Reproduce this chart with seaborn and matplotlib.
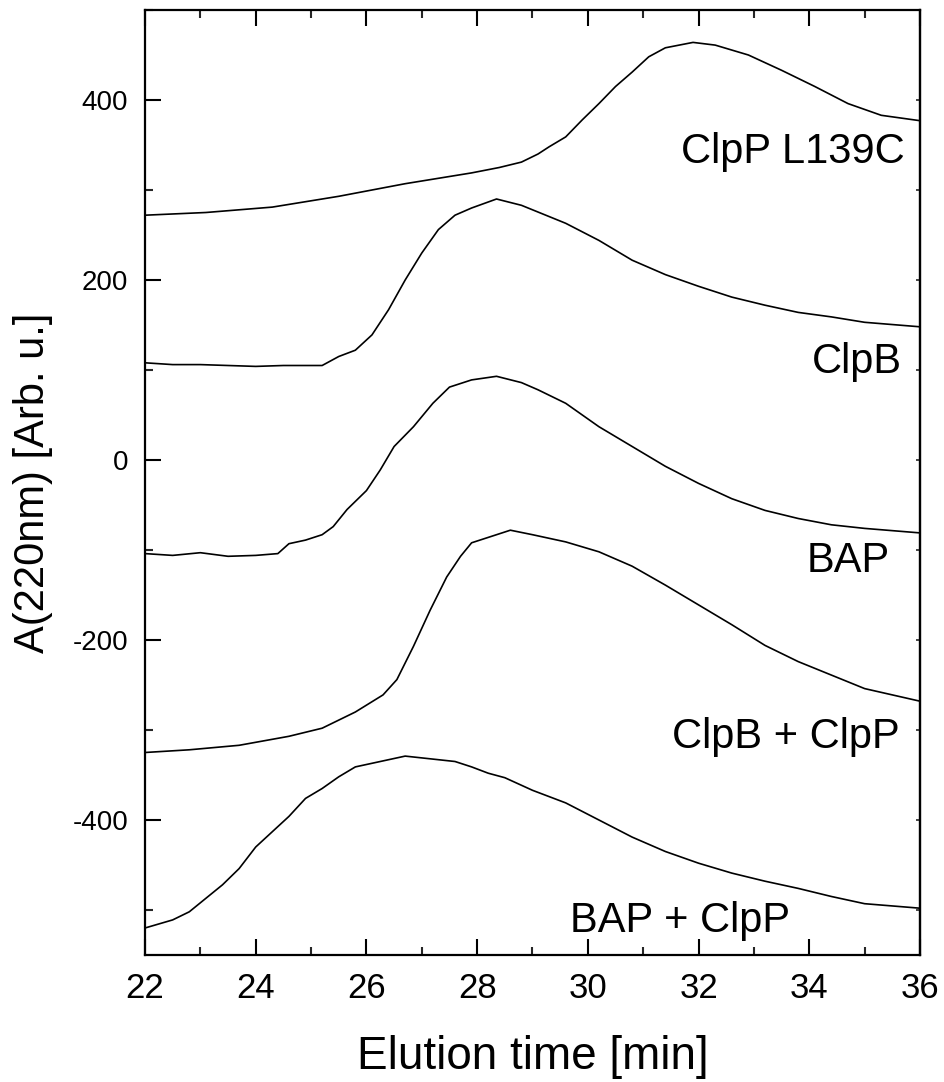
import matplotlib
matplotlib.use("Agg")
import matplotlib.pyplot as plt
from matplotlib.ticker import MultipleLocator
import numpy as np
import pandas as pd
import seaborn as sns

# ---- data ----
clpp_t = [22.0, 23.1, 24.3, 25.5, 26.7, 27.9, 28.4, 28.8, 29.1, 29.3, 29.6, 29.9, 30.2, 30.5, 30.8,
          31.1, 31.4, 31.9, 32.3, 32.9, 33.5, 34.1, 34.7, 35.3, 36.0]
clpp_y = [272, 275, 281, 293, 307, 319, 325, 331, 340, 348, 359, 378, 396, 415, 431,
          448, 458, 464, 461, 450, 433, 415, 396, 383, 377]

clpb_t = [22.0, 22.5, 23.0, 23.5, 24.0, 24.5, 25.2, 25.5, 25.8, 26.1, 26.4, 26.7, 27.0, 27.3, 27.6,
          27.9, 28.35, 28.8, 29.0, 29.6, 30.2, 30.8, 31.4, 32.0, 32.6, 33.2, 33.8, 34.4, 35.0, 36.0]
clpb_y = [108, 106, 106, 105, 104, 105, 105, 115, 122, 139, 167, 200, 230, 256, 272,
          280, 290, 283, 278, 263, 244, 222, 206, 193, 181, 172, 164, 159, 153, 148]

bap_t = [22.0, 22.5, 23.0, 23.5, 24.0, 24.4, 24.6, 24.9, 25.2, 25.4, 25.65, 26.0, 26.25, 26.5, 26.85,
         27.2, 27.5, 27.9, 28.35, 28.8, 29.1, 29.6, 30.2, 30.8, 31.4, 32.0, 32.6, 33.2, 33.8,
         34.4, 35.0, 36.0]
bap_y = [-104, -106, -103, -107, -106, -104, -93, -89, -83, -74, -55, -34, -11, 15, 37,
         63, 81, 89, 93, 86, 78, 63, 37, 15, -7, -26, -43, -56, -65,
         -72, -76, -81]

clpb_clpp_t = [22.0, 22.8, 23.7, 24.6, 25.2, 25.8, 26.3, 26.55, 26.85, 27.15, 27.45, 27.7, 27.9,
               28.2, 28.6, 29.0, 29.6, 30.2, 30.8, 31.4, 32.0, 32.6, 33.2, 33.8, 34.4, 35.0, 36.0]
clpb_clpp_y = [-325, -322, -317, -307, -298, -280, -261, -244, -207, -167, -130, -107, -92,
               -86, -78, -83, -91, -102, -118, -139, -161, -183, -206, -224, -239, -254, -268]

bap_clpp_t = [22.0, 22.5, 22.8, 23.1, 23.4, 23.7, 24.0, 24.3, 24.6, 24.9, 25.2, 25.5, 25.8, 26.1,
              26.4, 26.7, 27.3, 27.6, 27.9, 28.2, 28.5, 29.0, 29.6, 30.2, 30.8, 31.4, 32.0, 32.6,
              33.2, 33.8, 34.4, 35.0, 36.0]
bap_clpp_y = [-520, -511, -502, -487, -472, -454, -430, -413, -396, -376, -365, -352, -341, -337,
              -333, -329, -333, -335, -341, -348, -353, -367, -381, -400, -419, -435, -448, -459,
              -468, -476, -485, -493, -498]

series_names = ["ClpP L139C", "ClpB", "BAP", "ClpB + ClpP", "BAP + ClpP"]
label_x = [35.73, 35.67, 35.46, 35.64, 33.65]
label_y = [330, 97, -124, -320, -524]

x_ticks = [22, 24, 26, 28, 30, 32, 34, 36]
y_ticks = [-400, -200, 0, 200, 400]

# ---- build long-form table ----
frames = []
for name, t, y in zip(series_names,
                      [clpp_t, clpb_t, bap_t, clpb_clpp_t, bap_clpp_t],
                      [clpp_y, clpb_y, bap_y, clpb_clpp_y, bap_clpp_y]):
    frames.append(pd.DataFrame({"t": t, "A": y, "sample": name}))
df = pd.concat(frames, ignore_index=True)

sns.set_theme(style="ticks")
plt.rcParams["font.family"] = ["Liberation Sans", "DejaVu Sans"]
plt.rcParams["axes.unicode_minus"] = False

fig = plt.figure(figsize=(9.44, 10.82), dpi=100)
ax = fig.add_axes([145 / 944, 1 - 955 / 1082, 775 / 944, 945 / 1082])

sns.lineplot(data=df, x="t", y="A", hue="sample", units="sample", estimator=None,
             sort=False, palette=["black"] * 5, linewidth=1.2, legend=False, ax=ax)

for name, lx, ly in zip(series_names, label_x, label_y):
    ax.text(lx, ly, name, ha="right", va="baseline", fontsize=30, color="black")

ax.set_xlim(22, 36)
ax.set_ylim(-550, 500)
ax.set_xticks(x_ticks)
ax.set_yticks(y_ticks)
ax.xaxis.set_minor_locator(MultipleLocator(1))
ax.yaxis.set_minor_locator(MultipleLocator(100))

for s in ax.spines.values():
    s.set_linewidth(1.6)
    s.set_color("black")

ax.tick_params(axis="x", which="major", direction="in", length=11.5, width=1.5,
               top=True, bottom=True, labelsize=25, pad=12, colors="black")
ax.tick_params(axis="x", which="minor", direction="in", length=6, width=1.5,
               top=True, bottom=True)
ax.tick_params(axis="y", which="major", direction="in", length=11.5, width=1.5,
               left=True, right=False, labelsize=20, pad=12, colors="black")
ax.tick_params(axis="y", which="minor", direction="in", length=6, width=1.5,
               left=True, right=False)

sec = ax.secondary_yaxis("right")
sec.set_yticks(list(range(-500, 501, 100)))
sec.tick_params(axis="y", direction="in", length=3, width=1.2, labelright=False)
sec.spines["right"].set_linewidth(1.6)

ax.set_xlabel("Elution time [min]", fontsize=33, labelpad=22, color="black")
ax.set_ylabel("A(220nm) [Arb. u.]", fontsize=30, labelpad=14, color="black")

fig.savefig("out.png", dpi=100, facecolor="white")
